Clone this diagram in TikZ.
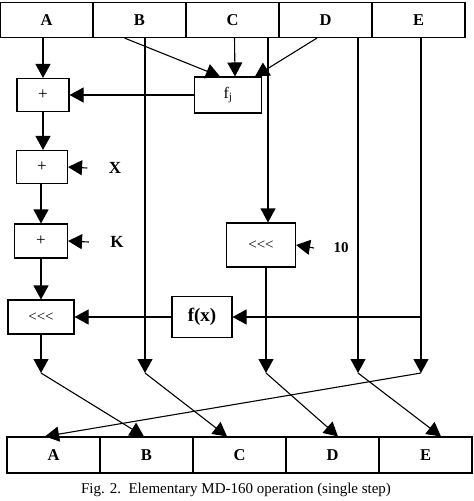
\documentclass[tikz,border=0pt]{standalone}
\usepackage{fontspec}
\setmainfont{Liberation Serif}
\usetikzlibrary{positioning,arrows.meta}

\newcommand{\rotl}{<\kern0pt<\kern0pt<}

\begin{document}
\begin{tikzpicture}[x=1pt,y=-1pt,node distance=93pt,on grid,line width=1.1pt,
	>={Triangle[length=14pt,width=15pt]},
	reg/.style={draw,minimum width=93pt,minimum height=35pt,inner sep=0pt,font=\fontsize{16.5}{16.5}\selectfont\bfseries},
	op/.style={draw,inner sep=0pt,font=\fontsize{17}{17}\selectfont},
	lbl/.style={inner sep=1pt,font=\fontsize{17}{17}\selectfont\bfseries}]
	\useasboundingbox (0,0) rectangle (474,501);
	
	\node[reg] (A0) at (46.5,20) {A};
	\node[reg] (B0) [right=of A0] {B};
	\node[reg] (C0) [right=of B0] {C};
	\node[reg] (D0) [right=of C0] {D};
	\node[reg] (E0) [right=of D0] {E};
	
	\node[op,minimum width=52pt,minimum height=33pt] (add1) at (43,95) {+};
	\node[op,minimum width=67pt,minimum height=36pt,font=\fontsize{16}{16}\selectfont] (fj) at (228,95) {f\textsubscript{j}};
	\node[op,minimum width=51pt,minimum height=33pt] (add2) at (42,167) {+};
	\node[op,minimum width=53pt,minimum height=34pt] (add3) at (41,241) {+};
	\node[op,minimum width=69pt,minimum height=44pt,font=\fontsize{15}{15}\selectfont] (rotC) at (261,245) {\rotl};
	\node[op,minimum width=66pt,minimum height=34pt,font=\fontsize{15}{15}\selectfont] (rotA) at (41,317) {\rotl};
	\node[op,minimum width=60pt,minimum height=41pt,font=\fontsize{19}{19}\selectfont\bfseries] (fx) at (202,317) {f(x)};
	
	\node[lbl] (X) at (115,168) {X};
	\node[lbl] (K) at (117,242) {K};
	\node[lbl,font=\fontsize{15}{15}\selectfont\bfseries] (ten) at (341,248) {10};
	
	\coordinate (tA) at (41,373);
	\coordinate (tB) at (145,373);
	\coordinate (tC) at (266,373);
	\coordinate (tD) at (358,373);
	\coordinate (tE) at (421,373);
	
	\node[reg,minimum height=36pt] (A1) at (53.5,455) {A};
	\node[reg,minimum height=36pt] (B1) [right=of A1] {B};
	\node[reg,minimum height=36pt] (C1) [right=of B1] {C};
	\node[reg,minimum height=36pt] (D1) [right=of C1] {D};
	\node[reg,minimum height=36pt] (E1) [right=of D1] {E};
	
	\draw[->] (add1 |- A0.south) -- (add1.north);
	\draw[->] ([xshift=-15pt]B0.south) -- ([xshift=-8pt]fj.north);
	\draw[->] ([xshift=2pt]C0.south) -- ([xshift=7pt]fj.north);
	\draw[->] ([xshift=-8.5pt]D0.south) -- ([xshift=27pt]fj.north);
	\draw[->] (fj.west) -- (add1.east);
	\draw[->] (add1.south) -- (add1.south |- add2.north);
	\draw[->] (add3.north |- add2.south) -- (add3.north);
	\draw[->] (add3.south) -- (rotA.north);
	\draw[->] ([xshift=-20pt]X.west) -- (add2.east);
	\draw[->] ([xshift=-20pt]K.west) -- (add3.east);
	\draw[->] ([xshift=-18pt]ten.west) -- (rotC.east);
	\draw[->] ([xshift=7pt]rotC.north |- C0.south) -- ([xshift=7pt]rotC.north);
	\draw[->] (tB |- B0.south) -- (tB);
	\draw[->] (tD |- D0.south) -- (tD);
	\draw[->] (tE |- E0.south) -- (tE);
	\draw[->] (fx -| tE) -- (fx.east);
	\draw[->] (fx.west) -- (rotA.east);
	\draw[->] (rotA.south) -- (tA);
	\draw[->] (tC |- rotC.south) -- (tC);
	
	\draw[->] (tA) -- ([xshift=-2.5pt]B1.north);
	\draw[->] (tB) -- ([xshift=-12.5pt]C1.north);
	\draw[->] (tC) -- ([xshift=5.5pt]D1.north);
	\draw[->] (tD) -- ([xshift=15.5pt]E1.north);
	\draw[->] (tE) -- ([xshift=-8.5pt]A1.north);
	
	\node[font=\fontsize{15}{15}\selectfont] (cap) at (236,490) {Fig. 2.\ \ Elementary MD-160 operation (single step)};
\end{tikzpicture}
\end{document}
